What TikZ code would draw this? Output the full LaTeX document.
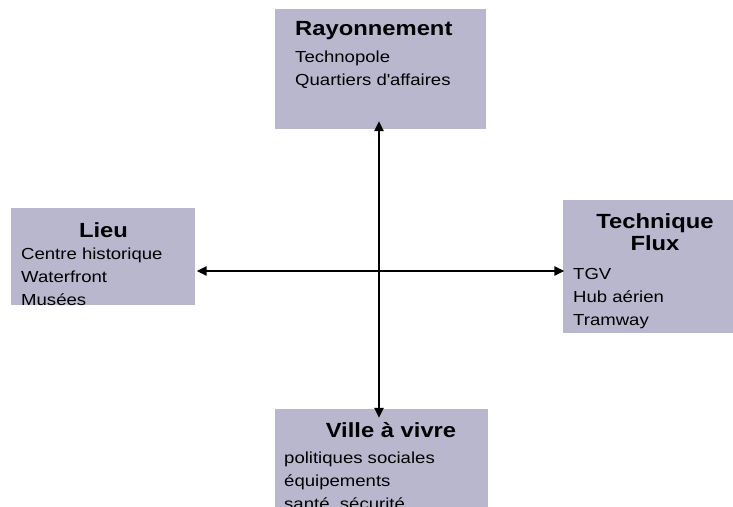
\documentclass[tikz,border=0pt]{standalone}
\usepackage{fontspec}
\setmainfont[FakeStretch=1.16]{Liberation Sans}
\usepackage{tikz}
\usetikzlibrary{arrows.meta, positioning, calc}
\definecolor{PoleLilac}{HTML}{B8B7CE}
\tikzset{
    pole/.style={rectangle, fill=PoleLilac, inner sep=0pt},
    poletitle/.style={font=\fontsize{20.5}{22}\selectfont\bfseries,
                      inner sep=0pt, align=center},
    items/.style={font=\fontsize{16}{23}\selectfont, inner sep=0pt, align=left},
    crossarrow/.style={{Triangle[length=10pt,width=9pt]}-{Triangle[length=10pt,width=9pt]},
                       line width=2.6pt, black}
}

\begin{document}
\begin{tikzpicture}[x=1pt, y=-1pt]
    \useasboundingbox (0,0) rectangle (733,506);
    \clip (0,0) rectangle (733,506);

    % The four poles
    \node[pole, minimum width=211pt, minimum height=120pt] (rayon) at (380.5,69) {};
    \node[pole, minimum width=184pt, minimum height=97pt] (lieu) at (103,256.5) {};
    \node[pole, minimum width=170pt, minimum height=133pt] (tech) at (648,266.5) {};
    \node[pole, minimum width=213pt, minimum height=120pt] (ville) at (381.5,469) {};

    % Their texts (base = baseline of the last line)
    \node[poletitle, anchor=base west] (rayon-title) at (295,35) {Rayonnement};
    \node[items, anchor=base west] (rayon-list) at (295,85) {
        Technopole\\
        Quartiers d\textquotesingle affaires
    };

    \node[poletitle, anchor=base] (lieu-title) at (103.5,237) {Lieu};
    \node[items, anchor=base west] (lieu-list) at (21,305) {
        Centre historique\\
        Waterfront\\
        Musées
    };

    \node[poletitle, anchor=base] (tech-title) at (655,250) {Technique\\Flux};
    \node[items, anchor=base west] (tech-list) at (573,325) {
        TGV\\
        Hub aérien\\
        Tramway
    };

    \node[poletitle, anchor=base] (ville-title) at (391,437) {Ville à vivre};
    \node[items, anchor=base west] (ville-list) at (284,509) {
        politiques sociales\\
        équipements\\
        santé, sécurité
    };

    % The two axes
    \coordinate (centre) at (379,271);
    \draw[crossarrow, shorten <=-8pt, shorten >=-9pt]
        (rayon.south -| centre) -- (ville.north -| centre);
    \draw[crossarrow, shorten <=1.5pt, shorten >=-1.5pt]
        (lieu.east |- centre) -- (tech.west |- centre);
\end{tikzpicture}
\end{document}
